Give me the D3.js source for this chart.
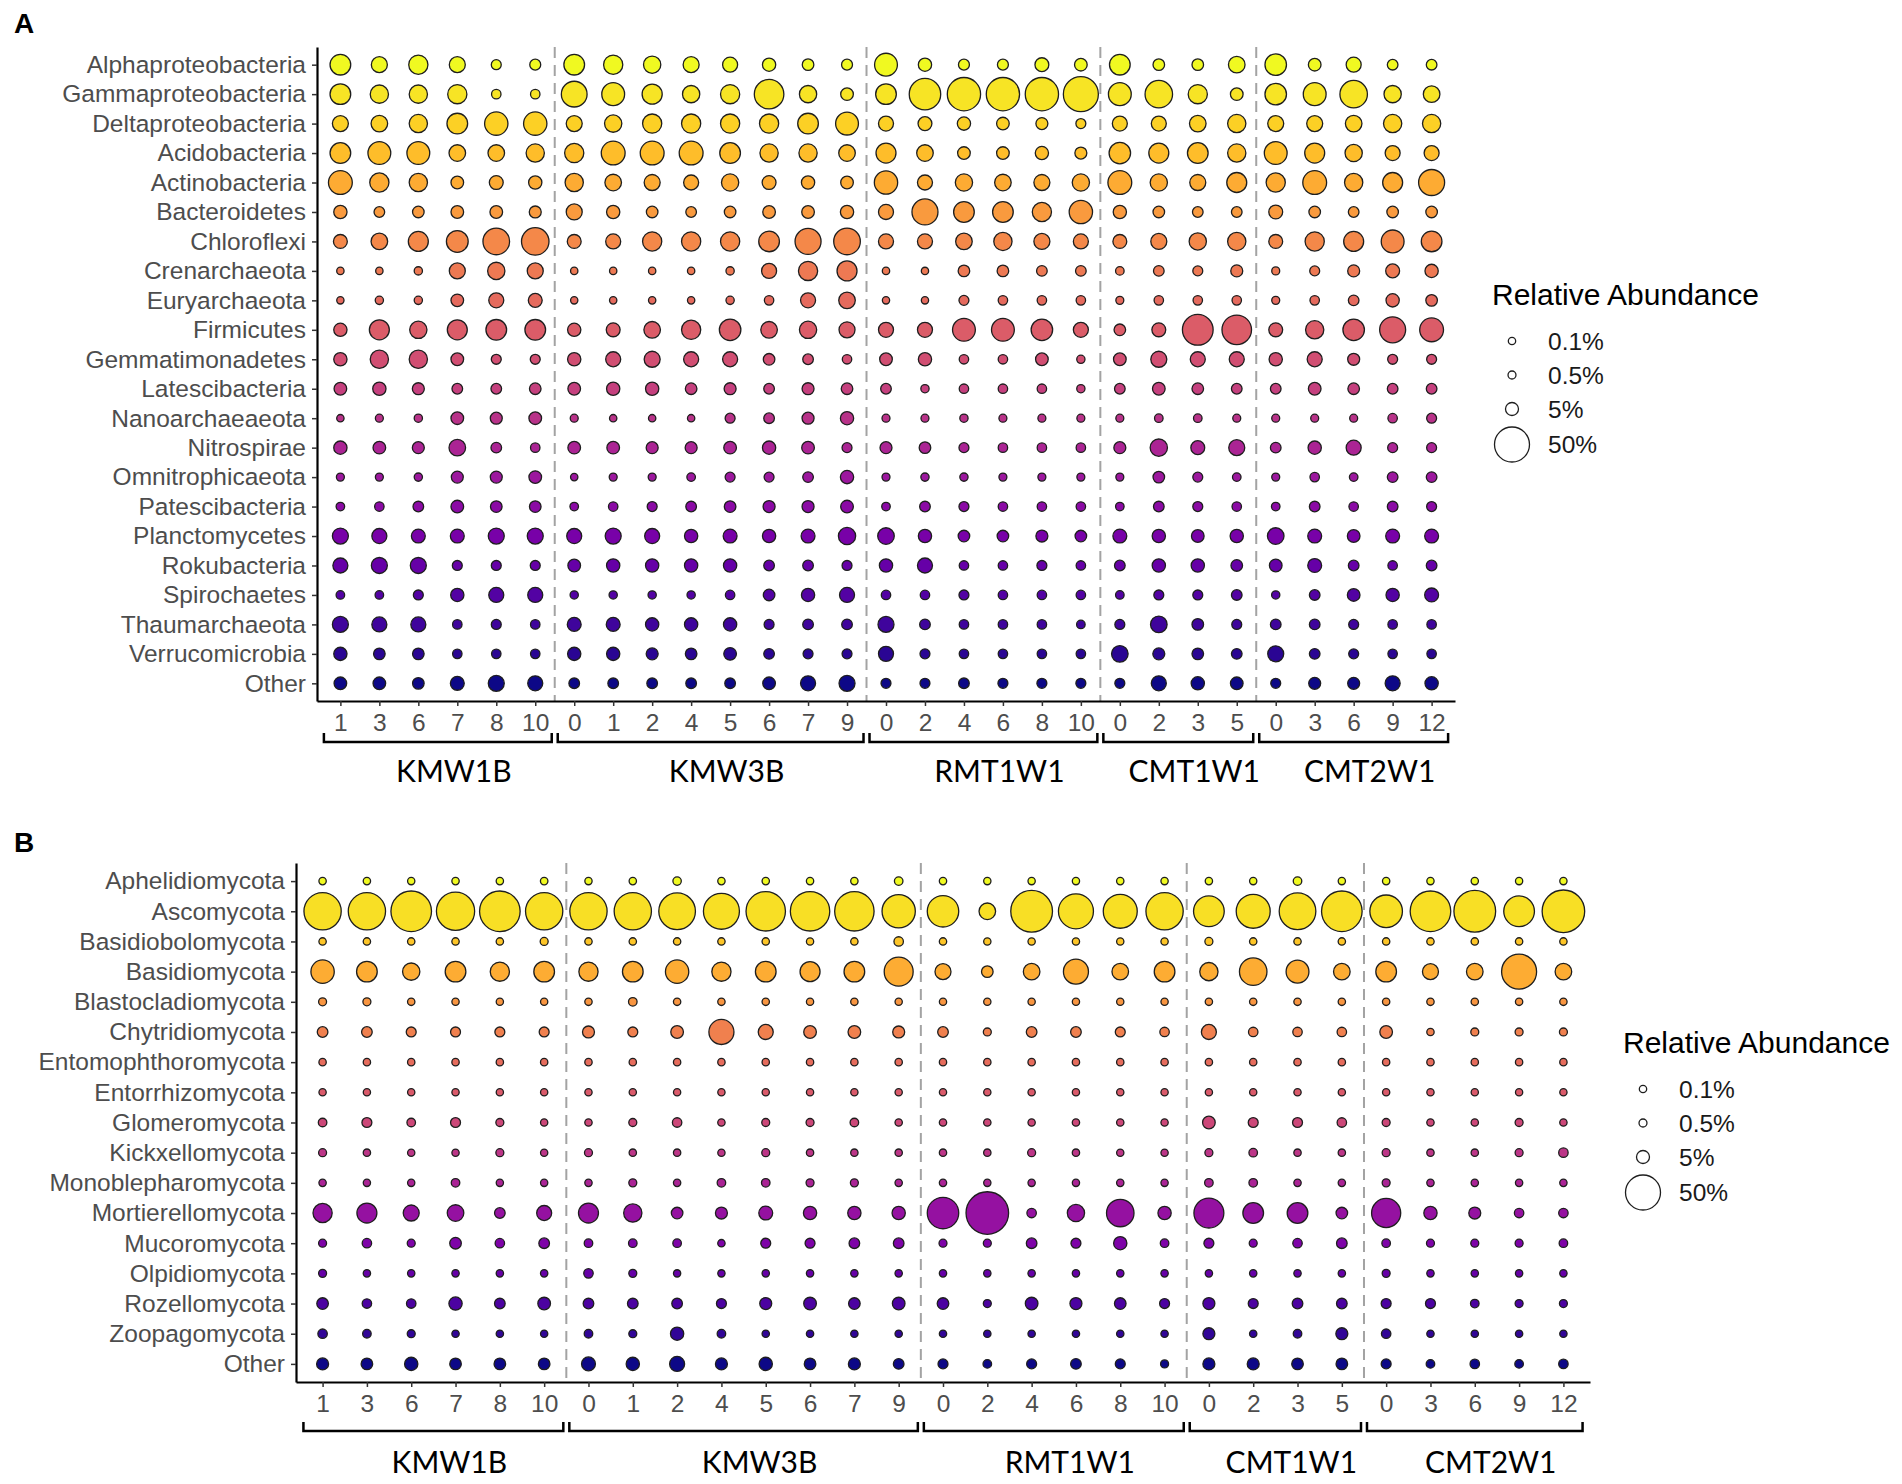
<!DOCTYPE html>
<html>
<head>
<meta charset="utf-8">
<script src="https://cdn.jsdelivr.net/npm/d3@7"></script>
<style>
  body { margin: 0; background: #fff; }
  svg { display: block; }
</style>
</head>
<body>
<div id="chart"></div>
<script>
// Bubble plots: relative abundance of bacterial (A) and fungal (B) phyla per sample

// sampling groups and their time points (same in both panels)
const groups = ["KMW1B", "KMW3B", "RMT1W1", "CMT1W1", "CMT2W1"];
const groupDays = [
    [1, 3, 6, 7, 8, 10],
    [0, 1, 2, 4, 5, 6, 7, 9],
    [0, 2, 4, 6, 8, 10],
    [0, 2, 3, 5],
    [0, 3, 6, 9, 12]
];

const bacteriaTaxa = ["Alphaproteobacteria", "Gammaproteobacteria", "Deltaproteobacteria", "Acidobacteria",
    "Actinobacteria", "Bacteroidetes", "Chloroflexi", "Crenarchaeota", "Euryarchaeota", "Firmicutes",
    "Gemmatimonadetes", "Latescibacteria", "Nanoarchaeaeota", "Nitrospirae", "Omnitrophicaeota",
    "Patescibacteria", "Planctomycetes", "Rokubacteria", "Spirochaetes", "Thaumarchaeota",
    "Verrucomicrobia", "Other"];

// % relative abundance, one row per taxon, columns in sample order
const bacteriaAbundance = [
    [16, 8.7, 13.5, 8.7, 2, 2.9,   16, 13.5, 10.5, 8.7, 7.4, 5.3, 3.5, 2.9,   20, 5.3, 2.9, 2.9, 6, 4.6,   16, 3.5, 3.5, 9.5,   17.5, 4.6, 7.4, 2.6, 2.6],
    [16, 12, 12, 13.5, 1.6, 1.6,   26, 20, 15, 10.5, 13.5, 35, 10.5, 4.6,   16, 40, 45, 45, 45, 50,   20, 30, 13.5, 4.6,   17.5, 20, 30, 10.5, 9.5],
    [8.7, 9.5, 12, 16, 21, 21,   8.7, 10.5, 13.5, 13.5, 13.5, 13.5, 16, 20,   7.4, 6, 5.3, 4.6, 3.9, 2,   7.4, 7.4, 9.5, 12,   8.7, 8.7, 9.5, 12, 12],
    [16, 20, 20, 9.5, 9.5, 12,   13.5, 22, 22, 22, 16, 12, 12, 9.5,   14.8, 9.5, 4.6, 4.6, 5.3, 3.9,   17.5, 14.8, 16, 12,   20, 14.8, 10.5, 7.4, 7.4],
    [22, 13.5, 12, 4.6, 6, 5.3,   12, 9.5, 8.7, 7.4, 10.5, 6, 5.3, 4.6,   21, 7.4, 10.5, 9.5, 8.7, 10.5,   22, 10.5, 8.7, 14.8,   13.5, 22, 12, 14.8, 26.6],
    [5.3, 2.6, 3.5, 4.6, 4.6, 3.9,   8.7, 5.3, 3.5, 2.6, 3.5, 4.6, 4.6, 5.3,   7.4, 26.6, 16, 16, 13.5, 21,   5.3, 3.5, 2.6, 2.6,   6, 3.5, 2.6, 3.5, 3.5],
    [6, 9.5, 14.8, 18, 28, 30,   6, 7.4, 13.5, 13.5, 13.5, 16, 26.6, 28,   7.4, 7.4, 9.5, 12, 8.7, 7.4,   6, 8.7, 10.5, 12,   6, 13.5, 14.8, 20, 16],
    [0.1, 0.1, 0.7, 8.7, 10.5, 8.7,   0.1, 0.1, 0.1, 0.1, 0.7, 7.4, 13.5, 14.8,   0.1, 0.05, 3.5, 3.5, 2.6, 2.6,   0.9, 2.6, 2, 3.9,   0.5, 2, 3.9, 6, 5.3],
    [0.05, 0.7, 0.7, 4.6, 7.4, 6,   0.05, 0.1, 0.1, 0.1, 0.7, 1.6, 7.4, 9.5,   0.05, 0.05, 2, 1.6, 1.6, 1.6,   0.5, 1.6, 1.6, 1.6,   0.5, 1.6, 2.6, 5.3, 3.5],
    [5.3, 14.8, 10.5, 14.8, 16, 16,   5.3, 6, 9.5, 13.5, 17.5, 9.5, 10.5, 8.7,   7.4, 7.4, 20, 20, 17.5, 7.4,   3.5, 6, 38, 35,   6, 12, 17.5, 26.6, 22],
    [5.3, 12, 12, 4.6, 2, 2,   5.3, 7.4, 8.7, 7.4, 7.4, 3.5, 2.6, 1.6,   4.6, 5.3, 1.6, 1.6, 4.6, 0.7,   4.6, 8.7, 7.4, 7.4,   5.3, 7.4, 3.9, 2, 2],
    [4.6, 5.3, 3.9, 2.6, 2.6, 3.5,   4.6, 5.3, 5.3, 3.5, 3.9, 2.6, 3.9, 3.5,   2.6, 0.7, 1.6, 1.6, 1.6, 0.7,   2.6, 4.6, 3.5, 2.6,   2.6, 4.6, 3.5, 2.6, 2.6],
    [0.1, 0.5, 0.7, 4.6, 3.9, 4.6,   0.5, 0.1, 0.1, 0.1, 2, 2.6, 3.9, 5.3,   0.5, 0.5, 0.7, 0.5, 0.5, 0.5,   0.5, 0.9, 0.9, 0.5,   0.5, 0.5, 0.5, 1.6, 2],
    [5.3, 4.6, 3.9, 9.5, 2.6, 1.6,   4.6, 4.6, 3.9, 3.9, 4.6, 5.3, 4.6, 2,   3.9, 3.5, 2, 1.6, 1.6, 1.6,   3.9, 10.5, 6, 8.7,   2.6, 5.3, 7.4, 2, 2],
    [0.5, 0.5, 0.7, 3.9, 3.9, 4.6,   0.1, 0.5, 0.5, 0.9, 2, 2, 2.6, 5.3,   0.5, 0.7, 0.7, 0.5, 0.5, 0.5,   0.5, 3.5, 2, 0.9,   0.5, 1.6, 0.9, 2.6, 2.6],
    [0.9, 1.6, 2.6, 4.6, 3.5, 3.5,   0.9, 1.6, 2, 2.6, 3.5, 3.9, 3.9, 4.6,   0.9, 2.6, 2, 1.6, 1.6, 1.6,   0.9, 2.6, 2, 1.6,   0.9, 2.6, 1.6, 2.6, 2],
    [8.7, 7.4, 6, 6, 8.7, 8.7,   7.4, 8.7, 7.4, 5.3, 6, 5.3, 6, 10.5,   9.5, 5.3, 3.5, 3.5, 3.9, 3.5,   6, 5.3, 4.6, 5.3,   9.5, 6, 4.6, 6, 6],
    [7.4, 8.7, 8.7, 2, 2, 2,   4.6, 5.3, 5.3, 5.3, 5.3, 2.6, 2.6, 2,   5.3, 7.4, 1.6, 1.6, 2, 1.6,   2.6, 5.3, 5.3, 3.5,   4.6, 6, 2.6, 1.6, 2.6],
    [0.9, 0.9, 2, 5.3, 7.4, 7.4,   0.7, 0.7, 0.7, 0.7, 1.6, 3.5, 5.3, 7.4,   1.6, 1.6, 2, 1.6, 1.6, 1.6,   0.9, 2, 2, 2.6,   0.7, 2.6, 4.6, 5.3, 6],
    [8.7, 7.4, 7.4, 1.6, 2, 1.6,   6, 6, 5.3, 5.3, 5.3, 2, 2.6, 2.6,   8.7, 2.6, 1.6, 1.6, 1.6, 0.9,   2, 9.5, 3.5, 2,   2.6, 2.6, 2, 1.6, 1.6],
    [5.3, 3.5, 3.5, 1.6, 1.6, 1.6,   5.3, 5.3, 3.9, 3.5, 4.6, 2.6, 2, 2,   7.4, 2, 1.6, 1.6, 1.6, 1.6,   9.5, 3.9, 3.5, 2.6,   8.7, 2.6, 2, 1.6, 1.6],
    [4.6, 4.6, 3.5, 6, 8.7, 7.4,   2.6, 2.6, 2.6, 2.6, 2.6, 4.6, 7.4, 8.7,   2, 2, 2.6, 2, 2, 2,   2, 7.4, 5.3, 4.6,   2, 3.9, 3.9, 7.4, 5.3]
];

const fungiTaxa = ["Aphelidiomycota", "Ascomycota", "Basidiobolomycota", "Basidiomycota", "Blastocladiomycota",
    "Chytridiomycota", "Entomophthoromycota", "Entorrhizomycota", "Glomeromycota", "Kickxellomycota",
    "Monoblepharomycota", "Mortierellomycota", "Mucoromycota", "Olpidiomycota", "Rozellomycota",
    "Zoopagomycota", "Other"];

const fungiAbundance = [
    [0.1, 0.1, 0.05, 0.1, 0.1, 0.2,   0.05, 0.1, 0.8, 0.1, 0.1, 0.1, 0.1, 0.9,   0.1, 0.05, 0.05, 0.05, 0.1, 0.05,   0.1, 0.05, 0.9, 0.05,   0.1, 0.05, 0.05, 0.05, 0.05],
    [57, 57, 68, 60, 68, 57,   57, 57, 55, 53, 64, 64, 64, 45,   40, 9.5, 72, 50, 47, 57,   38, 47, 55, 68,   43, 68, 72, 38, 75],
    [0.1, 0.1, 0.1, 0.1, 0.1, 0.5,   0.1, 0.1, 0.1, 0.1, 0.1, 0.05, 0.1, 1.6,   0.1, 0.05, 0.05, 0.05, 0.05, 0.05,   0.5, 0.1, 0.1, 0.1,   0.1, 0.1, 0.1, 0.1, 0.1],
    [21, 16, 10.5, 16, 13.5, 16,   13.5, 16, 21, 13.5, 16, 14.8, 16, 33.5,   8.7, 3.5, 9.5, 24.5, 9.5, 16,   12, 30, 20, 9.5,   16, 8.7, 9.5, 50, 9.5],
    [0.5, 0.5, 0.1, 0.05, 0.05, 0.05,   0.1, 0.9, 0.1, 0.1, 0.1, 0.05, 0.1, 0.05,   0.05, 0.05, 0.05, 0.05, 0.05, 0.05,   0.1, 0.1, 0.1, 0.1,   0.1, 0.1, 0.1, 0.1, 0.1],
    [2.6, 2.6, 2, 2, 2, 2,   3.9, 2, 4.6, 24.5, 7.4, 4.6, 4.6, 3.9,   2.6, 0.5, 2.6, 2.6, 2, 1.6,   7.4, 1.6, 1.6, 1.6,   4.6, 0.1, 0.5, 0.5, 0.5],
    [0.1, 0.1, 0.1, 0.1, 0.1, 0.1,   0.1, 0.1, 0.1, 0.1, 0.1, 0.1, 0.1, 0.1,   0.1, 0.1, 0.1, 0.1, 0.1, 0.1,   0.1, 0.1, 0.1, 0.1,   0.1, 0.1, 0.1, 0.1, 0.1],
    [0.05, 0.05, 0.05, 0.05, 0.05, 0.05,   0.05, 0.05, 0.05, 0.05, 0.05, 0.05, 0.05, 0.05,   0.05, 0.05, 0.05, 0.05, 0.05, 0.05,   0.05, 0.05, 0.05, 0.05,   0.05, 0.05, 0.05, 0.05, 0.05],
    [0.9, 2, 0.9, 2, 0.5, 0.05,   0.1, 0.5, 1.6, 0.1, 0.5, 0.5, 0.9, 0.1,   0.1, 0.1, 0.05, 0.1, 0.1, 0.05,   4.6, 2, 2, 1.6,   0.5, 0.1, 0.1, 0.5, 0.1],
    [0.5, 0.1, 0.05, 0.05, 0.5, 0.05,   0.5, 0.1, 0.1, 0.05, 0.5, 0.1, 0.1, 0.1,   0.1, 0.1, 0.5, 0.1, 0.05, 0.05,   0.5, 0.9, 0.1, 0.1,   0.5, 0.1, 0.1, 0.5, 1.6],
    [0.1, 0.05, 0.05, 0.9, 0.05, 0.05,   0.1, 0.5, 0.1, 0.9, 0.9, 0.5, 0.5, 0.1,   0.1, 0.05, 0.05, 0.05, 0.1, 0.05,   0.9, 0.9, 0.1, 0.1,   0.5, 0.1, 0.1, 0.1, 0.1],
    [13.5, 14.8, 8.7, 9.5, 2.6, 7.4,   14.8, 12, 3.5, 3.9, 6, 5.3, 5.3, 5.3,   40, 75, 1.6, 10.5, 30, 5.3,   36, 16, 16, 3.5,   34, 5.3, 3.9, 1.6, 1.6],
    [0.5, 1.6, 0.5, 3.5, 1.6, 2.6,   0.9, 0.9, 0.9, 0.1, 2, 2, 2.6, 2.6,   0.5, 0.5, 2.6, 2, 5.3, 0.9,   2, 0.5, 1.6, 2.6,   0.9, 0.5, 0.5, 0.5, 0.9],
    [0.5, 0.1, 0.1, 0.1, 0.1, 0.1,   1.6, 0.5, 0.05, 0.05, 0.1, 0.1, 0.1, 0.1,   0.1, 0.1, 0.1, 0.1, 0.1, 0.1,   0.1, 0.1, 0.1, 0.1,   0.5, 0.1, 0.1, 0.1, 0.1],
    [3.5, 1.6, 1.6, 5.3, 2.6, 4.6,   2.6, 2.6, 2.6, 2, 3.9, 4.6, 3.5, 4.6,   3.5, 0.5, 4.6, 3.9, 3.5, 2,   3.9, 2, 2.6, 2.6,   2, 2, 0.9, 0.5, 0.5],
    [1.6, 0.9, 0.5, 0.1, 0.1, 0.05,   0.9, 0.5, 5.3, 0.9, 0.1, 0.1, 0.1, 0.1,   0.1, 0.1, 0.1, 0.1, 0.1, 0.1,   3.9, 0.1, 0.9, 3.9,   1.6, 0.1, 0.1, 0.1, 0.1],
    [3.9, 3.5, 5.3, 3.5, 3.5, 3.5,   6, 5.3, 7.4, 3.9, 5.3, 3.5, 3.9, 2.6,   2, 0.9, 2, 2.6, 2, 0.5,   3.9, 3.9, 3.5, 3.5,   2, 0.9, 1.6, 0.9, 1.6]
];

const legendBreaks = [0.1, 0.5, 5, 50];
const legendTitle = "Relative Abundance";

const W = 1902, H = 1484;
const axisFont = "'Liberation Sans', Arial, sans-serif";
const groupFont = "Lato, 'Liberation Sans', sans-serif";

// sample columns: one per group/day
const samples = [];
groups.forEach((g, gi) => groupDays[gi].forEach(d => samples.push({group: g, day: d, key: g + "_" + d})));

// bubble size: area grows linearly with abundance
const area = d3.scaleLinear().domain([0, 50]).range([3.6 * 3.6, 17.5 * 17.5]);
const radius = v => Math.sqrt(area(v));

const svg = d3.select("#chart")
    .append("svg")
    .attr("width", W)
    .attr("height", H);

svg.append("rect").attr("width", W).attr("height", H).attr("fill", "#fff");

function drawPanel(p) {
    const g = svg.append("g");

    const x = d3.scalePoint()
        .domain(samples.map(s => s.key))
        .range([p.left, p.right])
        .padding(0.6);

    const y = d3.scalePoint()
        .domain(p.taxa)
        .range([p.top, p.bottom])
        .padding(0.6);

    const color = d3.scaleOrdinal()
        .domain(p.taxa)
        .range(p.taxa.map((t, i) => d3.interpolatePlasma(1 - i / (p.taxa.length - 1))));

    // panel letter
    g.append("text")
        .attr("x", 14)
        .attr("y", p.letterY)
        .attr("font-family", axisFont)
        .attr("font-weight", "bold")
        .attr("font-size", 28)
        .text(p.letter);

    // dashed separators between groups
    const step = x.step();
    for (let i = 1; i < groups.length; i++) {
        const prev = groupDays[i - 1], cur = groupDays[i];
        const xm = (x(groups[i - 1] + "_" + prev[prev.length - 1]) + x(groups[i] + "_" + cur[0])) / 2;
        g.append("line")
            .attr("x1", xm).attr("x2", xm)
            .attr("y1", p.top).attr("y2", p.bottom)
            .attr("stroke", "#a3a3a3")
            .attr("stroke-width", 2)
            .attr("stroke-dasharray", "11,7");
    }

    // Bubbles
    const cells = [];
    p.taxa.forEach((t, i) => samples.forEach((s, j) => cells.push({taxon: t, key: s.key, value: p.values[i][j]})));

    g.selectAll("circle.bubble")
        .data(cells)
        .enter()
        .append("circle")
        .attr("class", "bubble")
        .attr("cx", d => x(d.key))
        .attr("cy", d => y(d.taxon))
        .attr("r", d => radius(d.value))
        .attr("fill", d => color(d.taxon))
        .attr("stroke", "#1e1e1e")
        .attr("stroke-width", 1.3);

    // Y axis
    const yAxis = g.append("g")
        .attr("transform", `translate(${p.left},0)`)
        .call(d3.axisLeft(y).tickSize(5).tickPadding(6).tickSizeOuter(0));

    // X axis
    const xAxis = g.append("g")
        .attr("transform", `translate(0,${p.bottom})`)
        .call(d3.axisBottom(x).tickSize(5).tickPadding(8).tickSizeOuter(0)
            .tickFormat(k => k.split("_")[1]));

    [yAxis, xAxis].forEach(a => {
        a.select(".domain").attr("stroke", "#000").attr("stroke-width", 2.2);
        a.selectAll(".tick line").attr("stroke", "#333").attr("stroke-width", 1.5);
        a.selectAll(".tick text")
            .attr("font-family", axisFont)
            .attr("font-size", 24.5)
            .attr("fill", "#4d4d4d");
    });

    // group brackets and labels
    groups.forEach((grp, gi) => {
        const days = groupDays[gi];
        const x1 = x(grp + "_" + days[0]) - step / 2 + 3;
        const x2 = x(grp + "_" + days[days.length - 1]) + step / 2 - 3;
        g.append("path")
            .attr("d", `M${x1},${p.bracketY - 9}V${p.bracketY}H${x2}V${p.bracketY - 9}`)
            .attr("fill", "none")
            .attr("stroke", "#000")
            .attr("stroke-width", 2.5);
        g.append("text")
            .attr("x", (x1 + x2) / 2 + 16)
            .attr("y", p.groupY)
            .attr("text-anchor", "middle")
            .attr("font-family", groupFont)
            .attr("font-size", 30)
            .attr("fill", "#000")
            .text(grp);
    });

    // size legend
    const lg = g.append("g");
    lg.append("text")
        .attr("x", p.legendX)
        .attr("y", p.legendY)
        .attr("font-family", axisFont)
        .attr("font-size", 30)
        .attr("fill", "#000")
        .text(legendTitle);

    let ky = p.legendY + 19;
    legendBreaks.forEach(b => {
        const r = radius(b);
        const h = Math.max(34, 2 * r + 2);
        const cy = ky + h / 2;
        lg.append("circle")
            .attr("cx", p.legendX + 20)
            .attr("cy", cy)
            .attr("r", r)
            .attr("fill", "#fff")
            .attr("stroke", "#1e1e1e")
            .attr("stroke-width", 1.3);
        lg.append("text")
            .attr("x", p.legendX + 56)
            .attr("y", cy)
            .attr("dy", "0.35em")
            .attr("font-family", axisFont)
            .attr("font-size", 24.5)
            .attr("fill", "#1a1a1a")
            .text(b + "%");
        ky += h;
    });
}

drawPanel({
    letter: "A", letterY: 33,
    taxa: bacteriaTaxa, values: bacteriaAbundance,
    left: 317, right: 1455, top: 47, bottom: 701,
    bracketY: 742, groupY: 782,
    legendX: 1492, legendY: 305
});

drawPanel({
    letter: "B", letterY: 852,
    taxa: fungiTaxa, values: fungiAbundance,
    left: 296, right: 1590, top: 863, bottom: 1382,
    bracketY: 1431, groupY: 1473,
    legendX: 1623, legendY: 1053
});
</script>
</body>
</html>
